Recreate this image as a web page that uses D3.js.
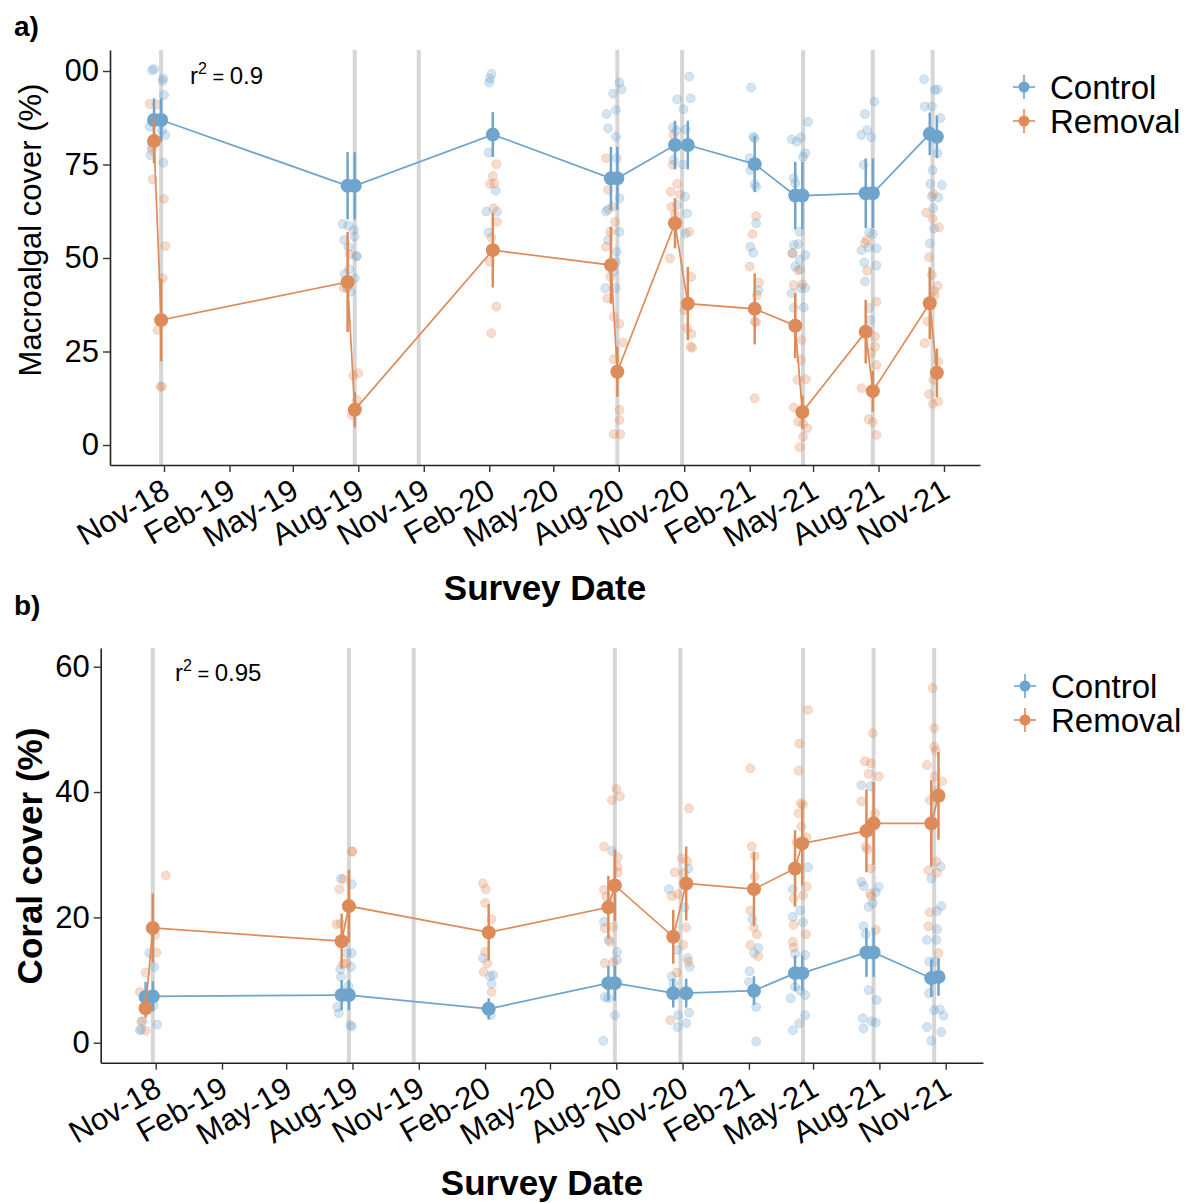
<!DOCTYPE html>
<html>
<head>
<meta charset="utf-8">
<script src="https://cdn.jsdelivr.net/npm/d3@7"></script>
<style>
  body { margin: 0; background: #fff; }
  svg { font-family: "Liberation Sans", Arial, sans-serif; }
</style>
</head>
<body>
<svg id="chart" width="1197" height="1203"></svg>
<script>
// survey dates (pre / post removal pairs)
const surveyDates = ["2018-10-18", "2018-10-28", "2019-07-17", "2019-07-27", "2020-02-06",
  "2020-07-21", "2020-07-30", "2020-10-19", "2020-11-06", "2021-02-08", "2021-04-06",
  "2021-04-16", "2021-07-14", "2021-07-24", "2021-10-12", "2021-10-22"];

// grey reference lines
const eventDates = ["2018-10-28", "2019-07-27", "2019-10-25", "2020-07-30", "2020-10-29",
  "2021-04-17", "2021-07-24", "2021-10-16"];

const tickDates = ["2018-11-01", "2019-02-01", "2019-05-01", "2019-08-01", "2019-11-01",
  "2020-02-01", "2020-05-01", "2020-08-01", "2020-11-01", "2021-02-01", "2021-05-01",
  "2021-08-01", "2021-11-01"];

const macroTicks = [0, 25, 50, 75, 100];
const coralTicks = [0, 20, 40, 60];

// means and standard errors
const ctrlMacro = [86.9, 86.9, 69.3, 69.3, 83.0, 71.3, 71.3, 80.2, 80.2, 75.1, 66.7, 66.7, 67.3, 67.3, 83.2, 82.4];
const ctrlMacroSe = [5.8, 5.8, 9, 9, 6, 8.4, 8.4, 6.5, 6.5, 7.5, 9, 9, 9.3, 9.3, 5.7, 5.7];
const remMacro = [81.3, 33.4, 43.6, 9.4, 52.1, 48.1, 19.6, 59.3, 37.8, 36.4, 31.9, 8.8, 30.3, 14.4, 37.9, 19.3];
const remMacroSe = [6, 11, 13.4, 4.7, 10, 10.3, 6.7, 6.7, 9.8, 9.5, 8.7, 4.5, 8.5, 5.5, 9.6, 6.5];

const ctrlCoral = [7.3, 7.4, 7.6, 7.6, 5.4, 9.5, 9.5, 7.9, 7.9, 8.3, 11.1, 11.1, 14.4, 14.4, 10.3, 10.5];
const ctrlCoralSe = [2.4, 2.4, 2.4, 2.4, 1.7, 2.8, 2.8, 2.3, 2.3, 2.3, 2.8, 2.8, 3.9, 3.9, 3.0, 3.0];
const remCoral = [5.5, 18.3, 16.2, 21.8, 17.6, 21.6, 25.1, 16.9, 25.4, 24.5, 27.8, 31.8, 33.8, 35.0, 35.0, 39.4];
const remCoralSe = [1.5, 5.5, 4.4, 5.8, 4.5, 5.0, 5.7, 4.3, 5.9, 5.9, 6.1, 6.7, 6.6, 6.6, 6.9, 7.0];

// raw quadrat values: [survey cluster, jitter in days, cover]
const clusterDates = ["2018-10-23", "2019-07-22", "2020-02-06", "2020-07-25", "2020-10-28",
  "2021-02-08", "2021-04-11", "2021-07-19", "2021-10-17"];

const rawCtrlMacro = [
  [0,-8,100.2],[0,-5,100.5],[0,8,98],[0,7,97.3],[0,9,93.6],[0,-11,85.1],[0,-8,79.8],[0,-10,77.5],[0,11,82.9],[0,8,75.5],[0,6,84],
  [1,-12,59.1],[1,-4,58.6],[1,4,57.5],[1,5,55.7],[1,-10,54.8],[1,-4,52.9],[1,7,50.5],[1,8,50.5],[1,-3,47],[1,-9,45.7],[1,5,44.6],[1,-1,41],[1,-6,42],
  [2,-5,96.9],[2,-4,98],[2,-2,99.2],[2,-6,78.2],[2,4,68],[2,-9,62.4],[2,6,62.4],[2,-6,56.8],
  [3,-10,88.5],[3,3,89.6],[3,8,96.9],[3,-1,93.9],[3,11,95.1],[3,-8,84.7],[3,3,82.4],[3,4,76.7],[3,8,66],[3,-11,62.4],[3,-8,63],[3,8,57],[3,-8,54.8],[3,4,51.7],[3,3,49],[3,-1,46.3],[3,-12,41.9],[3,3,42],
  [4,11,98.5],[4,-6,92.4],[4,13,92.7],[4,3,89.8],[4,-12,84.9],[4,-7,84],[4,6,84.4],[4,-11,76.2],[4,2,75],[4,-6,64.2],[4,5,66.4],[4,8,61.9],[4,6,56.6],
  [5,-5,95.6],[5,-2,82.4],[5,0,82],[5,-7,76.7],[5,-6,73.5],[5,0,69.8],[5,2,69],[5,2,59.3],[5,-6,53],[5,-2,51.4],[5,5,41.4],
  [6,-10,81.7],[6,-3,81.1],[6,3,82.3],[6,13,86.4],[6,9,78],[6,6,77],[6,-7,71.3],[6,-5,70],[6,1,57],[6,-7,53.5],[6,-1,53.7],[6,-9,51.3],[6,1,49.5],[6,9,50.8],[6,-5,47.7],[6,2,47],[6,-10,40.6],[6,3,41.9],[6,9,42],[6,7,36.8],[6,-7,36.7],
  [7,7,91.8],[7,-6,88.5],[7,-3,84.2],[7,-11,82.9],[7,3,82.3],[7,-8,74.9],[7,0,56.8],[7,5,56.4],[7,-11,52.1],[7,10,52.6],[7,-1,52.8],[7,-7,48.8],[7,10,48],[7,-6,43.7],[7,0,36.6],[7,2,33.4],
  [8,-13,97.8],[8,2,94.9],[8,6,95.1],[8,-12,90.5],[8,-2,90.5],[8,10,87.4],[8,6,78],[8,-1,73.5],[8,-4,69.8],[8,12,69.5],[8,-2,66.4],[8,7,66.2],[8,0,63.3],[8,1,57.9],[8,-5,53.9]
];

const rawRemMacro = [
  [0,-11,91.2],[0,-1,91],[0,-8,78.9],[0,-7,71],[0,9,65.8],[0,11,53.2],[0,7,44.6],[0,0,30.7],[0,6,15.6],[0,4,15.6],
  [1,-2,51],[1,-5,42.3],[1,-11,42],[1,10,19.2],[1,3,18.5],[1,8,12],[1,1,8],[1,9,10],
  [2,5,75.1],[2,0,71.9],[2,-4,69.8],[2,2,70],[2,1,63.3],[2,6,59.7],[2,-2,55.5],[2,-4,49],[2,5,37],[2,-2,29.9],
  [3,-11,76.7],[3,-8,68.2],[3,-2,63.7],[3,2,59.7],[3,-5,57],[3,-11,53],[3,-5,45],[3,-9,39.2],[3,0,34.3],[3,8,32.4],[3,13,27.4],[3,0,22.9],[3,8,9.4],[3,8,6.7],[3,0,2.9],[3,9,2.9],
  [4,-11,82.9],[4,-12,74.9],[4,-6,69.8],[4,-15,67.7],[4,-2,67],[4,-14,63.7],[4,-9,61.6],[4,11,57],[4,-16,49.9],[4,14,45],[4,4,36.1],[4,8,31.2],[4,14,29.7],[4,13,26.3],[4,15,26],
  [5,2,61.2],[5,-3,56.4],[5,-7,47.7],[5,6,43.4],[5,3,40.1],[5,0,33],[5,2,32.8],[5,0,12.5],
  [6,-9,51.3],[6,-1,46.7],[6,-7,42.8],[6,5,43],[6,4,28.1],[6,3,22.7],[6,-2,17.4],[6,10,17.6],[6,-7,10],[6,-1,6.2],[6,6,5.7],[6,12,4.5],[6,6,2.2],[6,1,-0.6],
  [7,-4,54.8],[7,-6,54],[7,-3,46.6],[7,10,38.3],[7,8,29],[7,8,26.3],[7,3,24.6],[7,10,21.4],[7,-11,15.2],[7,-1,6.9],[7,5,6.1],[7,10,2.7],
  [8,0,67.1],[8,-10,62.1],[8,-1,60.5],[8,8,58.2],[8,-6,50.2],[8,-2,45.5],[8,6,42.5],[8,1,41.2],[8,2,40],[8,-8,33],[8,-12,27.2],[8,7,22.3],[8,0,17.4],[8,-6,13.6],[8,7,11.6],[8,-1,11]
];

const rawCtrlCoral = [
  [0,0,14.3],[0,7,12.1],[0,-7,7.2],[0,6,5.9],[0,-9,3.4],[0,11,2.9],[0,-13,2],[0,-11,2.1],
  [1,-6,26.2],[1,9,25.3],[1,-7,11.7],[1,8,12.1],[1,2,14.3],[1,9,14.3],[1,-6,10.5],[1,4,9],[1,-11,5.7],[1,-9,4.7],[1,7,2.8],[1,9,2.6],
  [2,-8,13.5],[2,2,10.6],[2,4,9.4],[2,-2,5.7],[2,3,4.4],[2,6,10.8],
  [3,1,30.6],[3,-10,19.3],[3,-4,16.4],[3,8,14.5],[3,8,13.2],[3,-9,7.3],[3,-4,7.1],[3,5,4.4],[3,-11,0.3],
  [4,-15,24.5],[4,12,27.8],[4,7,21.6],[4,-4,14.8],[4,11,13.5],[4,14,12.1],[4,-11,10.6],[4,-9,9.5],[4,13,4.8],[4,-2,4.4],[4,9,3.1],[4,-3,2.5],
  [5,-2,19.7],[5,6,15.1],[5,0,14.3],[5,-6,11.4],[5,-7,9.7],[5,3,5.7],[5,3,0.2],
  [6,13,28],[6,-8,24.5],[6,2,21.1],[6,-8,20.1],[6,6,19.2],[6,9,14],[6,-5,14.2],[6,-5,8.9],[6,2,8.3],[6,9,7.6],[6,-11,7.1],[6,9,4.4],[6,1,3.1],[6,-8,2],
  [7,-12,41.1],[7,1,40.9],[7,-12,25.7],[7,12,24.9],[7,-9,25],[7,8,24],[7,-2,21.7],[7,4,22.3],[7,-9,18.6],[7,-6,17.3],[7,-2,8.4],[7,9,6.8],[7,-10,3.9],[7,-9,2.3],[7,2,3.4],[7,8,3.2],
  [8,8,28.1],[8,-5,26.2],[8,9,21.8],[8,3,21],[8,3,18.1],[8,-11,16.4],[8,2,16.4],[8,-8,12.9],[8,0,12.9],[8,-8,7.9],[8,-1,5.2],[8,7,5.3],[8,12,4.3],[8,-11,2.5],[8,9,1.7],[8,-5,0.3]
];

const rawRemCoral = [
  [0,23,26.7],[0,6,18.5],[0,8,17.2],[0,10,14.4],[0,-5,11.2],[0,-13,8.1],[0,-11,3.4],[0,-5,1.9],
  [1,9,30.5],[1,10,30.5],[1,-3,26.1],[1,-8,24.5],[1,-12,18.9],[1,-7,19],[1,2,12.7],[1,-3,12.6],
  [2,-8,25.4],[2,-4,24.5],[2,-5,22.3],[2,-5,14.5],[2,4,19.7],[2,-7,11.3],[2,-2,12.7],[2,4,8.1],
  [3,7,40.5],[3,12,39.3],[3,1,38.7],[3,-10,31.3],[3,9,29.6],[3,9,28.1],[3,9,27.2],[3,-10,24.4],[3,-7,23.3],[3,3,18.5],[3,-9,18.3],[3,-2,16.1],[3,-9,12.7],[3,3,12.9],
  [4,13,37.4],[4,3,29.4],[4,10,29],[4,-7,27.2],[4,6,27],[4,-11,23.4],[4,-3,23.7],[4,9,18.4],[4,5,15.6],[4,12,12.9],[4,-4,11.2],[4,-13,3.6],
  [5,-5,43.8],[5,-3,31.3],[5,1,29.8],[5,1,26.5],[5,-5,21.1],[5,0,18.4],[5,4,17.3],[5,-5,15.6],[5,6,13.8],
  [6,13,53.1],[6,1,47.7],[6,0,43.4],[6,3,38.2],[6,6,38],[6,0,36.6],[6,4,34.5],[6,-3,31.9],[6,11,32.8],[6,11,24.9],[6,-7,23],[6,6,23.5],[6,-7,18.8],[6,10,17.3],[6,-8,16.1],[6,-7,15.2],
  [7,4,49.4],[7,-7,44.9],[7,1,44.6],[7,-2,42.9],[7,12,42.5],[7,-12,38.5],[7,7,36.6],[7,-6,31.3],[7,-4,30.8],[7,1,27.8],[7,0,23.8],[7,2,23.4],[7,8,18],
  [8,-3,56.6],[8,-1,50.2],[8,-1,47.2],[8,1,46.6],[8,-11,44.3],[8,0,42.5],[8,10,41.7],[8,3,40.2],[8,-7,38.7],[8,2,28.9],[8,-9,27.5],[8,3,27.1],[8,-7,20.8],[8,-9,18.6],[8,5,14.3]
];

const groups = ["Control", "Removal"];
const colors = { Control: "#6fa5cc", Removal: "#de8b5a" };

const parse = d3.timeParse("%Y-%m-%d");
const fmt = d3.timeFormat("%b-%y");
const svg = d3.select("#chart");

function drawPanel(p) {
  const g = svg.append("g");

  // x scale: Nov-18 and Nov-21 pinned, then stretched to the panel edges
  const x = d3.scaleTime()
    .domain([parse("2018-11-01"), parse("2021-11-01")])
    .range([p.xa, p.xb]);
  x.domain([x.invert(p.left), x.invert(p.right)]).range([p.left, p.right]);

  const y = d3.scaleLinear()
    .domain([0, p.yTicks[p.yTicks.length - 1]])
    .range([p.y0, p.yTop]);
  y.domain([y.invert(p.bottom), y.invert(p.top)]).range([p.bottom, p.top]);

  // grey reference lines
  g.selectAll(".event")
    .data(eventDates)
    .join("line")
    .attr("x1", d => x(parse(d)))
    .attr("x2", d => x(parse(d)))
    .attr("y1", p.top)
    .attr("y2", p.bottom)
    .attr("stroke", "#d6d6d6")
    .attr("stroke-width", 4);

  // raw points
  const rawSets = [["Control", p.rawCtrl], ["Removal", p.rawRem]];
  rawSets.forEach(([name, raw]) => {
    g.append("g").selectAll("circle")
      .data(raw)
      .join("circle")
      .attr("cx", d => x(d3.timeDay.offset(parse(clusterDates[d[0]]), d[1])))
      .attr("cy", d => y(d[2]))
      .attr("r", 4.5)
      .attr("fill", colors[name])
      .attr("fill-opacity", 0.3)
      .attr("stroke", colors[name])
      .attr("stroke-opacity", 0.25);
  });

  // means, lines and error bars
  const series = [
    ["Control", p.ctrl, p.ctrlSe],
    ["Removal", p.rem, p.remSe]
  ];
  series.forEach(([name, vals, se]) => {
    const pts = surveyDates.map((d, i) => ({ date: parse(d), v: vals[i], se: se[i] }));
    const line = d3.line().x(d => x(d.date)).y(d => y(d.v));
    g.append("path")
      .datum(pts)
      .attr("fill", "none")
      .attr("stroke", colors[name])
      .attr("stroke-width", 1.7)
      .attr("d", line);
    g.append("g").selectAll("line")
      .data(pts)
      .join("line")
      .attr("x1", d => x(d.date))
      .attr("x2", d => x(d.date))
      .attr("y1", d => y(d.v - d.se))
      .attr("y2", d => y(d.v + d.se))
      .attr("stroke", colors[name])
      .attr("stroke-width", 2.5);
    g.append("g").selectAll("circle")
      .data(pts)
      .join("circle")
      .attr("cx", d => x(d.date))
      .attr("cy", d => y(d.v))
      .attr("r", 7)
      .attr("fill", colors[name]);
  });

  // axes
  const xAxis = g.append("g")
    .attr("transform", `translate(0,${p.bottom})`)
    .call(d3.axisBottom(x)
      .tickValues(tickDates.map(parse))
      .tickFormat(fmt)
      .tickSize(7)
      .tickSizeOuter(0));
  xAxis.select(".domain").attr("stroke", "#222").attr("stroke-width", 1.6);
  xAxis.selectAll(".tick line").attr("stroke", "#333").attr("stroke-width", 1.4);
  xAxis.selectAll(".tick text")
    .attr("font-size", 31)
    .attr("fill", "#000")
    .attr("text-anchor", "end")
    .attr("x", 0)
    .attr("y", 0)
    .attr("dy", "0.72em")
    .attr("transform", "translate(-4,12) rotate(-30)");

  const yAxis = g.append("g")
    .attr("transform", `translate(${p.left},0)`)
    .call(d3.axisLeft(y).tickValues(p.yTicks).tickSize(7).tickPadding(4).tickSizeOuter(0));
  yAxis.select(".domain").attr("stroke", "#222").attr("stroke-width", 1.6);
  yAxis.selectAll(".tick line").attr("stroke", "#333").attr("stroke-width", 1.4);
  yAxis.selectAll(".tick text").attr("font-size", 31).attr("fill", "#000");
  if (p.clipId) {
    // the reference cuts the leading "1" of 100 at its left edge
    svg.append("clipPath").attr("id", p.clipId)
      .append("rect").attr("x", p.clipX - p.left).attr("y", 0).attr("width", 200).attr("height", 1203);
    yAxis.attr("clip-path", `url(#${p.clipId})`);
  }

  // titles
  g.append("text")
    .attr("transform", `translate(${p.yTitleX},${p.yTitleY}) rotate(-90)`)
    .attr("text-anchor", "middle")
    .attr("font-size", p.yTitleSize)
    .attr("font-weight", p.yTitleBold ? "bold" : "normal")
    .text(p.yTitle);

  g.append("text")
    .attr("x", p.xTitleX)
    .attr("y", p.xTitleY)
    .attr("text-anchor", "middle")
    .attr("font-size", 35)
    .attr("font-weight", "bold")
    .text("Survey Date");

  g.append("text")
    .attr("x", 14)
    .attr("y", p.tagY)
    .attr("font-size", 28)
    .attr("font-weight", "bold")
    .text(p.tag);

  const r2 = g.append("text")
    .attr("x", p.r2X)
    .attr("y", p.r2Y)
    .attr("font-size", 24);
  r2.append("tspan").text("r");
  r2.append("tspan").attr("dy", -10).attr("font-size", 16).text("2");
  r2.append("tspan").attr("dy", 10).attr("font-size", 20).text(" = ");
  r2.append("tspan").text(p.r2);

  // legend
  const leg = g.append("g").attr("transform", `translate(${p.legX},${p.legY})`);
  groups.forEach((name, i) => {
    const row = leg.append("g").attr("transform", `translate(0,${i * 34})`);
    row.append("line").attr("x1", -11).attr("x2", 11).attr("stroke", colors[name]).attr("stroke-width", 1.6);
    row.append("line").attr("y1", -12).attr("y2", 12).attr("stroke", colors[name]).attr("stroke-width", 1.6);
    row.append("circle").attr("r", 5.5).attr("fill", colors[name]);
    row.append("text")
      .attr("x", 26)
      .attr("dy", "0.36em")
      .attr("font-size", 33)
      .text(name);
  });
}

drawPanel({
  tag: "a)", tagY: 36,
  left: 110, right: 980, top: 50, bottom: 465,
  xa: 164, xb: 944, y0: 445, yTop: 71,
  yTicks: macroTicks,
  ctrl: ctrlMacro, ctrlSe: ctrlMacroSe, rem: remMacro, remSe: remMacroSe,
  rawCtrl: rawCtrlMacro, rawRem: rawRemMacro,
  yTitle: "Macroalgal cover (%)", yTitleSize: 31, yTitleBold: false, yTitleX: 41, yTitleY: 230,
  xTitleX: 545, xTitleY: 600,
  r2: "0.9", r2X: 190, r2Y: 84,
  legX: 1024, legY: 87,
  clipId: "clipTop", clipX: 66
});

drawPanel({
  tag: "b)", tagY: 615,
  left: 100.7, right: 983, top: 648, bottom: 1062.7,
  xa: 155.7, xb: 945.7, y0: 1042.7, yTop: 666.7,
  yTicks: coralTicks,
  ctrl: ctrlCoral, ctrlSe: ctrlCoralSe, rem: remCoral, remSe: remCoralSe,
  rawCtrl: rawCtrlCoral, rawRem: rawRemCoral,
  yTitle: "Coral cover (%)", yTitleSize: 35, yTitleBold: true, yTitleX: 42, yTitleY: 856,
  xTitleX: 542, xTitleY: 1195,
  r2: "0.95", r2X: 175, r2Y: 681,
  legX: 1025, legY: 686
});
</script>
</body>
</html>
